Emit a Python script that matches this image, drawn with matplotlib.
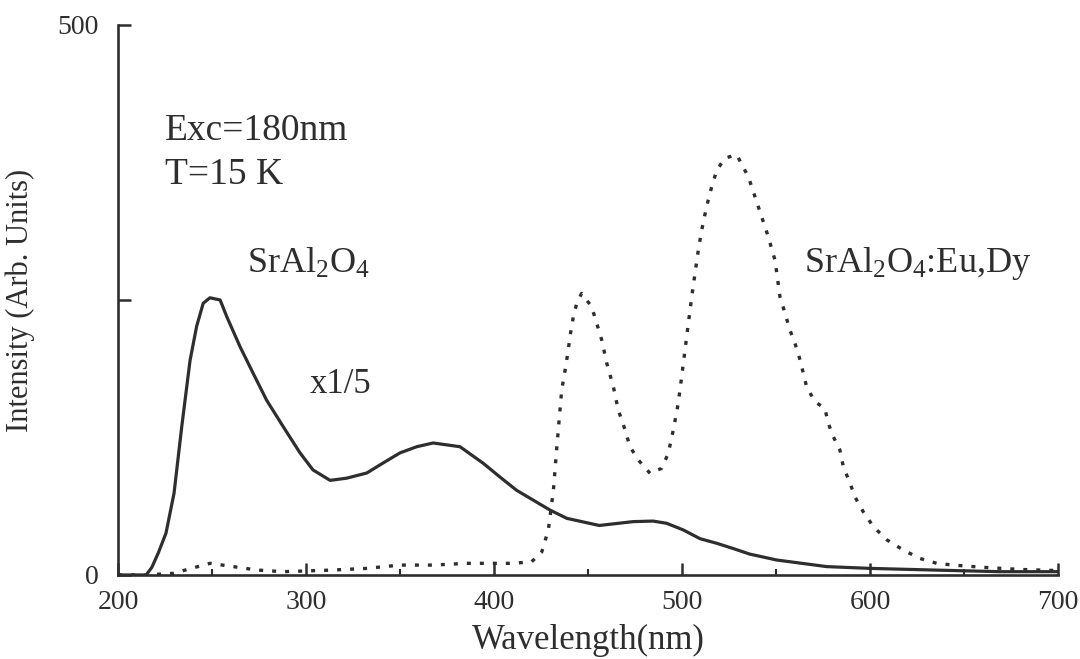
import matplotlib
matplotlib.use("Agg")
import matplotlib.pyplot as plt
from matplotlib.ticker import MultipleLocator

plt.rcParams.update({
    "font.family": ["Liberation Serif", "DejaVu Serif"],
    "mathtext.fontset": "custom",
    "mathtext.rm": "Liberation Serif",
    "mathtext.it": "Liberation Serif",
})

INK = "#2e2e2e"

# SrAl2O4 (solid, shown x1/5)
host_nm = [200, 210, 215, 218, 221.4, 225.5, 229.8, 233.9, 238.3, 241.8, 245.3,
           248.9, 254.3, 257.8, 264.9, 271.8, 279, 287.8, 296.8, 303.7, 312.8,
           321.6, 332.3, 341, 350, 358.9, 367.6, 381.9, 394.3, 403.2, 412,
           420.9, 429.8, 438.7, 456, 474, 484.6, 491.8, 500.6, 509.6, 518.5,
           527.3, 536, 550.4, 577, 600, 633.5, 669, 700]
host_int = [0, 0, 0, 7, 20, 38, 74.5, 135, 195, 226, 247,
            252, 250, 235, 207.5, 183.6, 159, 135, 111, 95.5, 86,
            88, 92.7, 101.8, 111, 116.6, 120, 116.6, 101.5, 89, 77,
            68, 59, 51.5, 45, 48.5, 49, 47, 41, 33, 28.8,
            24, 19, 13.6, 7.6, 6, 4.5, 3, 3]

# SrAl2O4:Eu,Dy (dotted)
doped_nm = [200, 215, 229.4, 248.9, 261.3, 273.8, 288, 314.6, 332.3, 350, 367.7,
            385.5, 410, 420, 425.4, 428.9, 431.6, 433.3, 434.8, 436, 437.8,
            439.5, 440.4, 442.2, 444, 446.6, 451.9, 454.6, 457.3, 460, 463.5,
            466.1, 469.7, 472.3, 476.8, 483, 489.2, 492.7, 495.4, 498, 499.8,
            501.6, 503.4, 505.2, 506.9, 508.7, 510.5, 513.1, 515.8, 518.5,
            522.9, 529.1, 535.3, 545.9, 549.5, 552.1, 554.8, 557.4, 560.1,
            562.8, 566.3, 570.7, 576, 577.8, 580.5, 584, 585.8, 589.4, 592,
            596.4, 601.8, 608.9, 617.7, 626.6, 635.5, 644.3, 660, 680, 700]
doped_int = [0, 0, 1.5, 10.6, 7.6, 4.5, 3, 4.5, 6, 9, 9,
             10.6, 10.6, 12, 21, 41, 77, 114, 144, 168, 186,
             204.5, 216.7, 234.8, 247, 256, 244, 229, 213.6, 192.4, 171,
             150, 132, 116.6, 104.5, 92.4, 97, 110.6, 132, 156, 180,
             204.5, 229, 253, 274, 295.5, 313.6, 335, 353, 368,
             379, 382, 362, 307.5, 286, 253, 238, 222.7, 210.6,
             195.5, 171, 157.5, 151.5, 138, 125.7, 113.6, 98.5, 83.4, 71,
             57.5, 44, 32, 22.7, 15, 10.6, 9, 7, 5, 4]

fig = plt.figure(figsize=(10.8, 6.59), dpi=100)
ax = fig.add_axes([0.1093, 0.1275, 0.8703, 0.8346])

ax.plot(host_nm, host_int, color=INK, lw=2.3, solid_joinstyle="round")
ax.plot(doped_nm, doped_int, color=INK, lw=2.4, linestyle=(0, (1.2, 2.7)))

ax.set_xlim(200, 700)
ax.set_ylim(0, 500)

for side in ("top", "right"):
    ax.spines[side].set_visible(False)
for side in ("left", "bottom"):
    ax.spines[side].set_linewidth(1.9)
    ax.spines[side].set_color(INK)

ax.xaxis.set_major_locator(MultipleLocator(100))
ax.xaxis.set_minor_locator(MultipleLocator(50))
ax.set_yticks([0, 250, 500])
ax.set_yticklabels(["0", "", "500"])
ax.tick_params(axis="both", which="major", direction="in", length=9,
               width=1.8, colors=INK, labelsize=20)
ax.tick_params(axis="x", which="minor", direction="in", length=4,
               width=1.5, colors=INK)
ax.tick_params(axis="x", which="major", pad=11)
ax.tick_params(axis="y", which="major", pad=14)

ax.set_xlabel("Wavelength(nm)", fontsize=25, color=INK, labelpad=6)
ax.set_ylabel("Intensity (Arb. Units)", fontsize=22, color=INK, labelpad=16)

ax.text(225, 404, "Exc=180nm", fontsize=27, color=INK, va="center")
ax.text(225, 364, "T=15 K", fontsize=27, color=INK, va="center")
ax.text(268.5, 283, r"SrAl$_2$O$_4$", fontsize=26, color=INK, va="center")
ax.text(302, 173, "x1/5", fontsize=25, color=INK, va="center")
ax.text(565, 283, r"SrAl$_2$O$_4$:Eu,Dy", fontsize=26, color=INK, va="center")

fig.savefig("out.png", dpi=100)
